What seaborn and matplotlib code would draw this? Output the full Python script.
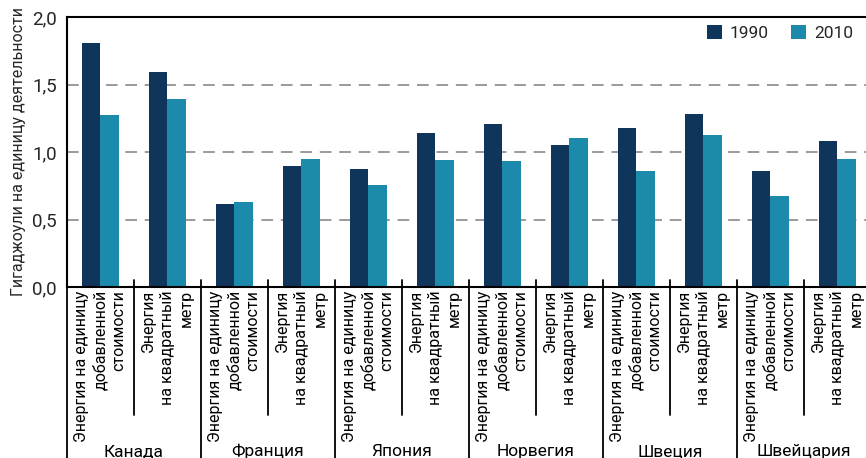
import numpy as np
import pandas as pd
import matplotlib
matplotlib.use("Agg")
import matplotlib.pyplot as plt
import matplotlib.transforms as mtransforms
import seaborn as sns

countries = ["Канада", "Франция", "Япония", "Норвегия", "Швеция", "Швейцария"]
metrics = ["Энергия на единицу\nдобавленной\nстоимости", "Энергия\nна квадратный\nметр"]
years = ["1990", "2010"]
v1990 = [1.805, 1.595, 0.612, 0.896, 0.873, 1.140, 1.207, 1.052, 1.175, 1.281, 0.857, 1.080]
v2010 = [1.274, 1.391, 0.630, 0.946, 0.756, 0.938, 0.935, 1.101, 0.857, 1.125, 0.676, 0.945]
yticks = [0.0, 0.5, 1.0, 1.5, 2.0]
ytick_labels = ["0,0", "0,5", "1,0", "1,5", "2,0"]
ylabel = "Гигаджоули на единицу деятельности"
colors = ["#10355a", "#1c8aaa"]

sns.set_theme(style="white")
plt.rcParams["font.family"] = ["Roboto", "DejaVu Sans"]

cats = [f"{c}|{m}" for c in countries for m in metrics]
df = pd.DataFrame({
    "cat": cats * 2,
    "year": [years[0]] * len(cats) + [years[1]] * len(cats),
    "value": v1990 + v2010,
})

W, H = 866, 458
fig = plt.figure(figsize=(W / 100, H / 100), dpi=100)
ax = fig.add_axes([66.8 / W, 171 / H, 804 / W, 270 / H])

sns.barplot(data=df, x="cat", y="value", hue="year", order=cats, hue_order=years,
            palette=colors, width=0.556, gap=0, saturation=1, errorbar=None,
            ax=ax, edgecolor="none", linewidth=0)

ax.set_xlim(-0.5, len(cats) - 0.5)
ax.set_ylim(0, 2.0)
ax.set_axisbelow(True)
ax.grid(axis="y", color="#9a9a9a", linestyle=(0, (6, 4)), linewidth=1.4)
ax.grid(axis="x", visible=False)
for s in ["left", "bottom", "top", "right"]:
    ax.spines[s].set_color("black")
    ax.spines[s].set_linewidth(1.5)

ax.set_yticks(yticks)
ax.set_yticklabels(ytick_labels, fontsize=13.5)
ax.tick_params(axis="y", length=0, pad=7)
ax.set_xticks(range(len(cats)))
ax.set_xticklabels([])
ax.tick_params(axis="x", length=0)
ax.set_xlabel("")
ax.set_ylabel(ylabel, fontsize=11.5)
ax.yaxis.set_label_coords(-0.051, 0.5)

trans = mtransforms.blended_transform_factory(ax.transData, ax.transAxes)
for i, cat in enumerate(cats):
    metric = cat.split("|")[1]
    ax.text(i, -0.012, metric, transform=trans, rotation=90, ha="center", va="top",
            multialignment="right", fontsize=11.5, linespacing=1.3, color="black")
for j, c in enumerate(countries):
    ax.text(2 * j + 0.5, -0.626, c, transform=trans, ha="center", va="baseline",
            fontsize=12.5, color="black")
for k in range(len(cats) + 1):
    x = k - 0.5
    y_end = -0.75 if k % 2 == 0 else -0.474
    ax.plot([x, x], [0.025, y_end], transform=trans, color="black", lw=1.3, clip_on=False)

handles, labels = ax.get_legend_handles_labels()
if ax.get_legend() is not None:
    ax.get_legend().remove()
fig.legend(handles, labels, loc="center right", bbox_to_anchor=(853 / W, 1 - 33 / H),
           ncol=2, frameon=False, fontsize=12.5, handlelength=0.85, handleheight=0.85,
           handletextpad=0.45, columnspacing=1.3, borderpad=0, borderaxespad=0)

fig.savefig("out.png", dpi=100)
